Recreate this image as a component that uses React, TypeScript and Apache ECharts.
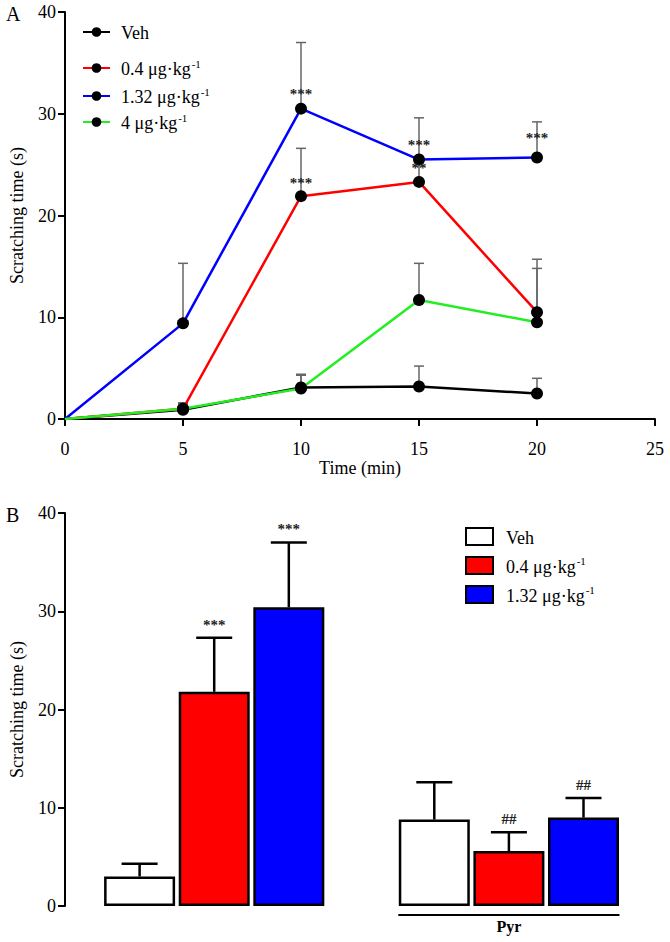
import React, { useEffect, useRef } from 'react';
import * as echarts from 'echarts';

const FONT = 'Liberation Serif, Times New Roman, serif';

// ---------- Panel A data ----------
const timeMin = [0, 5, 10, 15, 20];
const vehMean = [0, 0.9, 3.1, 3.2, 2.5];
const vehSem = [0, 0.5, 1.2, 2.0, 1.5];
const lowMean = [0, 1.0, 21.9, 23.3, 10.5];
const lowSem = [0, 0.6, 4.7, 2.3, 5.2];
const midMean = [0, 9.4, 30.5, 25.5, 25.7];
const midSem = [0, 5.9, 6.5, 4.1, 3.5];
const highMean = [0, 1.0, 3.0, 11.7, 9.5];
const highSem = [0, 0.5, 1.4, 3.6, 5.3];
const namesA = ['Veh', '0.4 μg·kg-1', '1.32 μg·kg-1', '4 μg·kg-1'];

// significance marks in panel A: [series key, time index, text]
const annAText = ['***', '***', '***', '**', '***'];
const annASeries = ['mid', 'low', 'mid', 'low', 'mid'];
const annATime = [2, 2, 3, 3, 4];

// ---------- Panel B data ----------
const namesB = ['B:Veh', 'B:0.4 μg·kg-1', 'B:1.32 μg·kg-1'];
const groupB = ['', 'Pyr'];
const vehBar = [3.0, 8.8];
const vehBarSem = [1.3, 3.8];
const lowBar = [21.8, 5.6];
const lowBarSem = [5.5, 1.9];
const midBar = [30.4, 9.0];
const midBarSem = [6.6, 2.0];
const annBText = ['', '***', '***', '', '##', '##'];

// layout constants (bar slot positions along hidden value axis)
const vehSlot = [1, 4.95];
const lowSlot = [2, 5.95];
const midSlot = [3, 6.95];

const COLORS = ['#000000', '#ff0000', '#0000ff', '#22ee22'];
const BAR_COLORS = ['#ffffff', '#ff0000', '#0000ff'];

function legendFmt(name: string) {
  const n = name.replace(/^B:/, '');
  if (n.endsWith('-1')) {
    return `{n|${n.slice(0, -2)}}{s|-1}`;
  }
  return `{n|${n}}`;
}

const legendRich = {
  n: { fontFamily: FONT, fontSize: 18, color: '#000', lineHeight: 20, verticalAlign: 'bottom' },
  s: { fontFamily: FONT, fontSize: 11, color: '#000', lineHeight: 20, verticalAlign: 'top', padding: [0, 0, 6, 1] },
};

export default function App() {
  const ref = useRef<HTMLDivElement>(null);

  useEffect(() => {
    document.body.style.margin = '0';
    const chart = echarts.init(ref.current!, undefined, { renderer: 'svg' });

    const meansA: Record<string, number[]> = { veh: vehMean, low: lowMean, mid: midMean, high: highMean };
    const semsA = [vehSem, lowSem, midSem, highSem];
    const meanListA = [vehMean, lowMean, midMean, highMean];

    const errDataA: number[][] = [];
    meanListA.forEach((m, si) => {
      m.forEach((v, i) => {
        if (semsA[si][i] > 0) errDataA.push([timeMin[i], v, v + semsA[si][i]]);
      });
    });

    const annDataA = annATime.map((ti, k) => [timeMin[ti], meansA[annASeries[k]][ti]]);
    const annOffA = [-15, -13, -15, -14, -20];

    const barMeans = [vehBar, lowBar, midBar];
    const barSems = [vehBarSem, lowBarSem, midBarSem];
    const barSlots = [vehSlot, lowSlot, midSlot];
    const errDataB: number[][] = [];
    const annDataB: number[][] = [];
    const annTextB: string[] = [];
    for (let g = 0; g < 2; g++) {
      for (let s = 0; s < 3; s++) {
        const m = barMeans[s][g];
        const top = m + barSems[s][g];
        errDataB.push([barSlots[s][g], m, top]);
        annDataB.push([barSlots[s][g], top]);
        annTextB.push(annBText[g * 3 + s]);
      }
    }

    const axisLine = { show: true, lineStyle: { color: '#000', width: 2 } };
    const axisTick = { show: true, inside: false, length: 7, lineStyle: { color: '#000', width: 2 } };
    const nameStyle = { color: '#000', fontFamily: FONT, fontSize: 18 };

    const yAxisBase = {
      type: 'value', min: 0, max: 40, interval: 10,
      axisLine, axisTick,
      axisLabel: { color: '#000', fontFamily: FONT, fontSize: 18, margin: 9 },
      splitLine: { show: false },
      name: 'Scratching time (s)', nameLocation: 'middle', nameGap: 39,
      nameTextStyle: nameStyle,
    };

    const lineSeries = meanListA.map((m, si) => ({
      type: 'line',
      name: namesA[si],
      xAxisIndex: 0,
      yAxisIndex: 0,
      data: m.map((v, i) => (i === 0 ? { value: [timeMin[i], v], symbol: 'none' } : [timeMin[i], v])),
      symbol: 'circle',
      symbolSize: 12,
      showSymbol: true,
      itemStyle: { color: '#000' },
      lineStyle: { color: COLORS[si], width: 2.5 },
      z: 3,
      silent: true,
    }));

    const barSeries = barMeans.map((m, si) => ({
      type: 'bar',
      name: namesB[si],
      xAxisIndex: 1,
      yAxisIndex: 1,
      data: m.map((v, g) => [barSlots[si][g], v]),
      barWidth: 71,
      barGap: '-100%',
      itemStyle: { color: BAR_COLORS[si], borderColor: '#000', borderWidth: 2.5 },
      z: 2,
      silent: true,
    }));

    const legendA = namesA.map((n, i) => ({
      data: [n],
      left: 82,
      top: [24, 58, 86, 112][i],
      padding: 0,
      orient: 'vertical',
      itemWidth: 27,
      itemHeight: 12,
      selectedMode: false,
      formatter: legendFmt,
      textStyle: { rich: legendRich, padding: [0, 0, 0, 6] },
    }));

    const legendB = {
      data: namesB.map((n) => ({ name: n, icon: 'rect' })),
      left: 465,
      top: 527,
      padding: 0,
      orient: 'vertical',
      itemWidth: 27,
      itemHeight: 17,
      itemGap: 9,
      selectedMode: false,
      formatter: legendFmt,
      textStyle: { rich: legendRich, padding: [0, 0, 0, 8] },
    };

    const option: any = {
      animation: false,
      backgroundColor: '#fff',
      textStyle: { fontFamily: FONT },
      grid: [
        { left: 62, right: 15, top: 12, height: 407 },
        { left: 62, right: 38, top: 513, height: 393 },
      ],
      xAxis: [
        {
          type: 'value', gridIndex: 0, min: 0, max: 25, interval: 5,
          axisLine, axisTick,
          axisLabel: { color: '#000', fontFamily: FONT, fontSize: 18, margin: 21 },
          splitLine: { show: false },
          name: 'Time (min)', nameLocation: 'middle', nameGap: 38,
          nameTextStyle: nameStyle,
        },
        { type: 'value', gridIndex: 1, min: 0, max: 7.6, show: false },
      ],
      yAxis: [
        { ...yAxisBase, gridIndex: 0 },
        { ...yAxisBase, gridIndex: 1 },
      ],
      legend: [...legendA, legendB],
      graphic: [
        { type: 'text', left: 6, top: 4, style: { text: 'A', font: `20px ${FONT}`, fill: '#000' } },
        { type: 'text', left: 6, top: 505, style: { text: 'B', font: `20px ${FONT}`, fill: '#000' } },
      ],
      series: [
        {
          type: 'custom',
          name: 'errA',
          xAxisIndex: 0,
          yAxisIndex: 0,
          data: errDataA,
          encode: { x: 0, y: [1, 2] },
          z: 1,
          silent: true,
          renderItem: (params: any, api: any) => {
            const x = api.value(0);
            const p0 = api.coord([x, api.value(1)]);
            const p1 = api.coord([x, api.value(2)]);
            const w = 5;
            const st = { stroke: '#666', lineWidth: 1.5 };
            return {
              type: 'group',
              children: [
                { type: 'line', shape: { x1: p0[0], y1: p0[1], x2: p1[0], y2: p1[1] }, style: st },
                { type: 'line', shape: { x1: p1[0] - w, y1: p1[1], x2: p1[0] + w, y2: p1[1] }, style: st },
              ],
            };
          },
        },
        ...lineSeries,
        {
          type: 'custom',
          name: 'annA',
          xAxisIndex: 0,
          yAxisIndex: 0,
          data: annDataA,
          encode: { x: 0, y: 1 },
          z: 4,
          silent: true,
          renderItem: (params: any, api: any) => {
            const p = api.coord([api.value(0), api.value(1)]);
            return {
              type: 'text',
              x: p[0],
              y: p[1] + annOffA[params.dataIndex],
              style: {
                text: annAText[params.dataIndex],
                font: `bold 15px ${FONT}`,
                fill: '#222',
                align: 'center',
                verticalAlign: 'middle',
              },
            };
          },
        },
        ...barSeries,
        {
          type: 'custom',
          name: 'errB',
          xAxisIndex: 1,
          yAxisIndex: 1,
          data: errDataB,
          encode: { x: 0, y: [1, 2] },
          z: 1,
          silent: true,
          renderItem: (params: any, api: any) => {
            const x = api.value(0);
            const p0 = api.coord([x, api.value(1)]);
            const p1 = api.coord([x, api.value(2)]);
            const w = 18;
            const st = { stroke: '#000', lineWidth: 2.5 };
            return {
              type: 'group',
              children: [
                { type: 'line', shape: { x1: p0[0], y1: p0[1], x2: p1[0], y2: p1[1] }, style: st },
                { type: 'line', shape: { x1: p1[0] - w, y1: p1[1], x2: p1[0] + w, y2: p1[1] }, style: st },
              ],
            };
          },
        },
        {
          type: 'custom',
          name: 'annB',
          xAxisIndex: 1,
          yAxisIndex: 1,
          data: annDataB,
          encode: { x: 0, y: 1 },
          z: 4,
          silent: true,
          renderItem: (params: any, api: any) => {
            const t = annTextB[params.dataIndex];
            if (!t) return null;
            const p = api.coord([api.value(0), api.value(1)]);
            return {
              type: 'text',
              x: p[0],
              y: p[1] - 13,
              style: {
                text: t,
                font: `bold 15px ${FONT}`,
                fill: '#222',
                align: 'center',
                verticalAlign: 'middle',
              },
            };
          },
        },
        {
          type: 'custom',
          name: 'groupB',
          xAxisIndex: 1,
          yAxisIndex: 1,
          data: [[vehSlot[1], midSlot[1]]],
          encode: { x: [0, 1] },
          z: 4,
          silent: true,
          renderItem: (params: any, api: any) => {
            const a = api.coord([api.value(0), 0]);
            const b = api.coord([api.value(1), 0]);
            const half = 36;
            const y = a[1] + 9;
            return {
              type: 'group',
              children: [
                { type: 'line', shape: { x1: a[0] - half, y1: y, x2: b[0] + half, y2: y }, style: { stroke: '#000', lineWidth: 2 } },
                {
                  type: 'text',
                  x: (a[0] + b[0]) / 2,
                  y: y + 11,
                  style: { text: groupB[1], font: `bold 16px ${FONT}`, fill: '#000', align: 'center', verticalAlign: 'middle' },
                },
              ],
            };
          },
        },
      ],
    };

    chart.setOption(option);
    return () => chart.dispose();
  }, []);

  return <div ref={ref} style={{ width: 670, height: 942 }} />;
}
